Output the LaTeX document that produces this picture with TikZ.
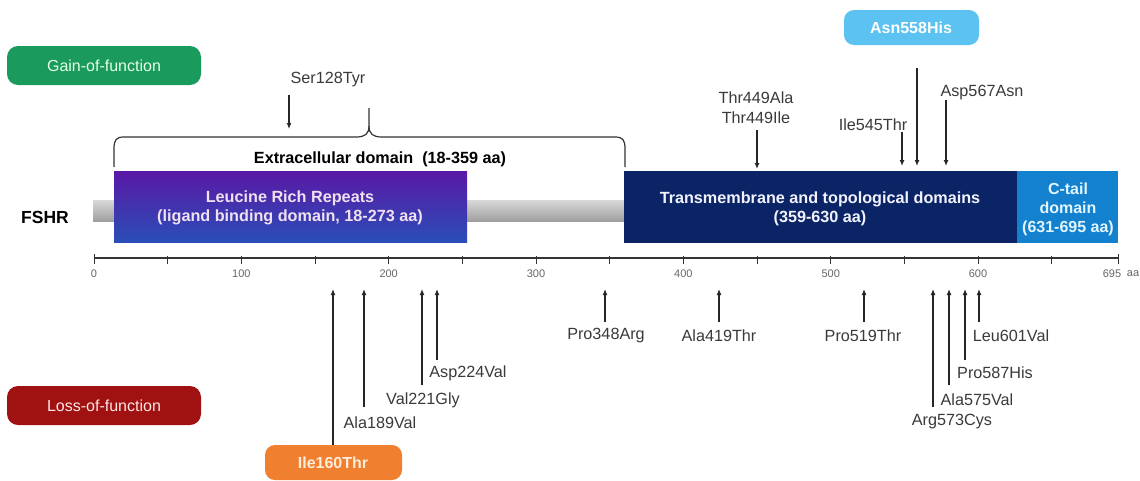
\documentclass[tikz,border=0pt]{standalone}
\usepackage{fontspec}
\setmainfont{Liberation Sans}
\usetikzlibrary{arrows.meta}
\definecolor{gainc}{HTML}{1A9A5C}
\definecolor{lossc}{HTML}{A01212}
\definecolor{asnc}{HTML}{5CC2F2}
\definecolor{ilec}{HTML}{F07F30}
\definecolor{tmc}{HTML}{0B2465}
\definecolor{ctc}{HTML}{1481CF}
\definecolor{lrrtop}{HTML}{5A18A6}
\definecolor{lrrbot}{HTML}{2A4EB6}
\definecolor{labc}{HTML}{3A3A3A}
\tikzset{
  mut/.style={font=\fontsize{16.2}{18}\selectfont, text=labc, inner sep=0pt},
  arr/.style={line width=1.6pt, draw=black!85, -{Latex[length=6pt,width=5pt]}},
  badge/.style={rounded corners=10pt, draw=none, font=\fontsize{16}{18}\selectfont, inner sep=0pt},
  boxtxt/.style={font=\bfseries\fontsize{16.2}{19.5}\selectfont, align=center, inner sep=0pt},
  ticklab/.style={font=\fontsize{11}{12}\selectfont, text=black!60, inner sep=0pt},
}
\begin{document}
\begin{tikzpicture}[x=1pt,y=-1pt]
\useasboundingbox (0,0) rectangle (1140,480);
\fill[white] (0,0) rectangle (1140,480);

% badges
\fill[gainc, rounded corners=11pt] (7,46) rectangle (201,85);
\node[badge, text=green!10!white] (gain) at (104,66) {Gain-of-function};
\fill[lossc, rounded corners=11pt] (7,386) rectangle (201,425);
\node[badge, text=red!10!white] (loss) at (104,406) {Loss-of-function};
\fill[asnc, rounded corners=10pt] (844,10) rectangle (979,45);
\node[badge, font=\bfseries\fontsize{16}{18}\selectfont, text=white] (asnb) at (911,28) {Asn558His};
\fill[ilec, rounded corners=10pt] (265,445) rectangle (402,480);
\node[badge, font=\bfseries\fontsize{16}{18}\selectfont, text=orange!15!white] (ileb) at (333,463) {Ile160Thr};

% protein bar
\shade[top color=gray!30, bottom color=gray!75] (93,200) rectangle (625,221);
\shade[top color=lrrtop, bottom color=lrrbot] (114,171) rectangle (467,242);
\fill[tmc] (624,171) rectangle (1017,243);
\fill[ctc] (1017,171) rectangle (1118,243);
\node[font=\bfseries\fontsize{17.5}{19}\selectfont, inner sep=0pt] (fshr) at (45,217) {FSHR};
\node[boxtxt, text=violet!12!white] (lrr) at (290,208) {Leucine Rich Repeats\\(ligand binding domain, 18-273 aa)};
\node[boxtxt, text=blue!5!white] (tm) at (820,209) {Transmembrane and topological domains\\(359-630 aa)};
\node[boxtxt, text=cyan!12!white, font=\bfseries\fontsize{16}{19}\selectfont] (ct) at (1068,209) {C-tail\\domain\\(631-695 aa)};

% brace
\coordinate (bl) at (114,167);
\coordinate (br) at (625,167);
\coordinate (btip) at (369,108);
\draw[line width=1.2pt, black!80] (bl) -- (114,149) .. controls (114,140) and (116,137) .. (124,137) -- (356,137)
  .. controls (365,137) and (369,134) .. (369,126) -- (btip);
\draw[line width=1.2pt, black!80] (br) -- (625,149) .. controls (625,140) and (623,137) .. (615,137) -- (382,137)
  .. controls (373,137) and (369,134) .. (369,126);
\node[font=\bfseries\fontsize{16.2}{18}\selectfont, inner sep=0pt] (ecd) at (380,159) {Extracellular domain\ \ (18-359 aa)};

% axis
\coordinate (ax0) at (94,258);
\coordinate (ax1) at (1118,258);
\draw[line width=1.1pt, black!80] (ax0) -- (ax1);
\foreach \v in {0,50,...,650} {
  \draw[line width=1pt, black!80] ({94+\v*1.4734},256) -- ({94+\v*1.4734},264);
}
\draw[line width=1pt, black!80] (1118,254) -- (1118,264);
\draw[line width=1pt, black!80] (94,254) -- (94,264);
\foreach \v in {0,100,...,600} {
  \node[ticklab] at ({94+\v*1.4734},274) {\v};
}
\node[ticklab] (t695) at (1112,274) {695};
\node[ticklab] (taa) at (1133,274) {aa};

% gain-of-function mutations (above)
\node[mut] (ser) at (328,80) {Ser128Tyr};
\coordinate (sera) at (289,95); \coordinate (serb) at (289,129);
\draw[arr] (sera) -- (serb);
\node[mut, align=center] (thr) at (756,108) {Thr449Ala\\[2pt]Thr449Ile};
\coordinate (thra) at (757,130); \coordinate (thrb) at (757,169);
\draw[arr] (thra) -- (thrb);
\node[mut] (ile545) at (873,125) {Ile545Thr};
\coordinate (i545a) at (902,132); \coordinate (i545b) at (902,166);
\draw[arr] (i545a) -- (i545b);
\coordinate (asna) at (917,68); \coordinate (asnb2) at (917,166);
\draw[arr] (asna) -- (asnb2);
\node[mut] (asp567) at (982,93) {Asp567Asn};
\coordinate (a567a) at (946,100); \coordinate (a567b) at (946,166);
\draw[arr] (a567a) -- (a567b);

% loss-of-function mutations (below)
\coordinate (i160a) at (333,445); \coordinate (i160b) at (333,289);
\draw[arr] (i160a) -- (i160b);
\node[mut] (a189) at (380,423) {Ala189Val};
\coordinate (a189a) at (364,407); \coordinate (a189b) at (364,289);
\draw[arr] (a189a) -- (a189b);
\node[mut] (v221) at (423,400) {Val221Gly};
\coordinate (v221a) at (422,385); \coordinate (v221b) at (422,289);
\draw[arr] (v221a) -- (v221b);
\node[mut] (d224) at (468,373) {Asp224Val};
\coordinate (d224a) at (437,360); \coordinate (d224b) at (437,289);
\draw[arr] (d224a) -- (d224b);
\node[mut] (p348) at (606,336) {Pro348Arg};
\coordinate (p348a) at (605,322); \coordinate (p348b) at (605,289);
\draw[arr] (p348a) -- (p348b);
\node[mut] (a419) at (719,336) {Ala419Thr};
\coordinate (a419a) at (719,322); \coordinate (a419b) at (719,289);
\draw[arr] (a419a) -- (a419b);
\node[mut] (p519) at (863,336) {Pro519Thr};
\coordinate (p519a) at (864,322); \coordinate (p519b) at (864,289);
\draw[arr] (p519a) -- (p519b);
\node[mut] (r573) at (952,422) {Arg573Cys};
\coordinate (r573a) at (933,407); \coordinate (r573b) at (933,289);
\draw[arr] (r573a) -- (r573b);
\node[mut] (a575) at (977,400) {Ala575Val};
\coordinate (a575a) at (949,385); \coordinate (a575b) at (949,289);
\draw[arr] (a575a) -- (a575b);
\node[mut] (p587) at (995,373) {Pro587His};
\coordinate (p587a) at (965,360); \coordinate (p587b) at (965,289);
\draw[arr] (p587a) -- (p587b);
\node[mut] (l601) at (1011,336) {Leu601Val};
\coordinate (l601a) at (979,322); \coordinate (l601b) at (979,289);
\draw[arr] (l601a) -- (l601b);
\end{tikzpicture}
\end{document}
